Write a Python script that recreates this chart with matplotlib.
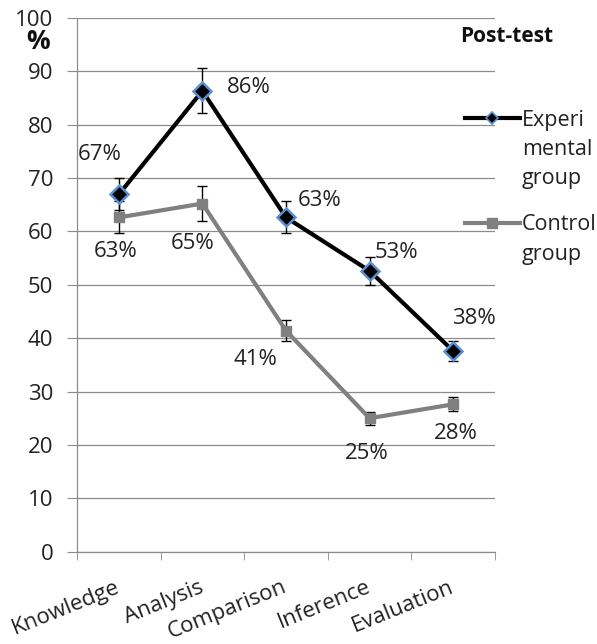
import matplotlib.pyplot as plt
import numpy as np

plt.rcParams['font.family'] = ['Open Sans', 'DejaVu Sans']

# categories and values
categories = ["Knowledge", "Analysis", "Comparison", "Inference", "Evaluation"]
exp_mean = [66.9, 86.3, 62.6, 52.6, 37.6]
exp_err = [3.0, 4.2, 3.0, 2.6, 1.8]
ctrl_mean = [62.6, 65.2, 41.4, 25.0, 27.6]
ctrl_err = [3.0, 3.2, 1.9, 1.2, 1.3]

# label offsets in pixels (dx, dy) relative to each point
exp_offsets = [(-19, 40), (46, 3), (34, 17), (27, 18), (21, 32)]
ctrl_offsets = [(-3, -34), (-10, -40), (-31, -29), (-3, -35), (3, -29)]

grid_color = "#8c8c8c"
text_color = "#222222"
exp_color = "black"
ctrl_color = "#808080"
fs = 16

fig = plt.figure(figsize=(5.97, 6.44), dpi=100)
ax = fig.add_axes([0.129, 0.1433, 0.70, 0.8292])

x = np.arange(len(categories))

# error bars first, so markers sit on top
ax.errorbar(x, exp_mean, yerr=exp_err, fmt="none", ecolor="black",
            elinewidth=1, capsize=3.5, capthick=1, zorder=3)
ax.errorbar(x, ctrl_mean, yerr=ctrl_err, fmt="none", ecolor="black",
            elinewidth=1, capsize=3.5, capthick=1, zorder=3)

ax.plot(x, ctrl_mean, color=ctrl_color, linewidth=3, marker="s",
        markersize=7.5, markerfacecolor=ctrl_color, markeredgecolor=ctrl_color,
        zorder=4)
ax.plot(x, exp_mean, color=exp_color, linewidth=3, marker="D",
        markersize=9, markerfacecolor="black", markeredgecolor="#5b8fd0",
        markeredgewidth=1.8, zorder=5)

# data labels
for xi, v, (dx, dy) in zip(x, exp_mean, exp_offsets):
    ax.annotate(f"{round(v):d}%", (xi, v), xytext=(dx * 0.72, dy * 0.72),
                textcoords="offset points", ha="center", va="center",
                fontsize=fs, color=text_color)
for xi, v, (dx, dy) in zip(x, ctrl_mean, ctrl_offsets):
    ax.annotate(f"{round(v):d}%", (xi, v), xytext=(dx * 0.72, dy * 0.72),
                textcoords="offset points", ha="center", va="center",
                fontsize=fs, color=text_color)

# axes styling
ax.set_xlim(-0.5, len(categories) - 0.5)
ax.set_ylim(0, 100)
ax.set_yticks(np.arange(0, 101, 10))
ax.yaxis.grid(True, color=grid_color, linewidth=0.9)
ax.set_axisbelow(True)
for side in ["top", "right"]:
    ax.spines[side].set_visible(False)
for side in ["left", "bottom"]:
    ax.spines[side].set_color(grid_color)
    ax.spines[side].set_linewidth(0.9)

ax.tick_params(axis="y", length=7, color=grid_color, labelsize=fs,
               labelcolor=text_color, pad=10)
ax.set_xticks(x)
ax.set_xticklabels(categories, rotation=22, ha="right", va="center",
                   rotation_mode="anchor", fontsize=fs, color=text_color)
ax.tick_params(axis="x", which="major", length=0, pad=25)
ax.set_xticks(np.arange(-0.5, len(categories)), minor=True)
ax.tick_params(axis="x", which="minor", length=6, color=grid_color)

# "%" unit under the top tick
ax.text(-0.093, 0.955, "%", transform=ax.transAxes, ha="center", va="center",
        fontsize=19, fontweight="bold", color="#111111")

# legend drawn by hand so the handle lines up with the first text line
ax.text(1.029, 0.964, "Post-test", transform=ax.transAxes, ha="center",
        va="center", fontsize=15, fontweight="bold", color="#111111")
ax.plot([0.928, 1.060], [0.812, 0.812], transform=ax.transAxes,
        color=exp_color, linewidth=3, clip_on=False, zorder=5)
ax.plot([0.994], [0.812], transform=ax.transAxes, marker="D", markersize=6,
        markerfacecolor="black", markeredgecolor="#5b8fd0", markeredgewidth=1.2,
        clip_on=False, zorder=6)
ax.text(1.065, 0.828, "Experi\nmental\ngroup", transform=ax.transAxes,
        ha="left", va="top", fontsize=15.5, color=text_color, linespacing=1.52)
ax.plot([0.928, 1.060], [0.6156, 0.6156], transform=ax.transAxes,
        color=ctrl_color, linewidth=3, clip_on=False, zorder=5)
ax.plot([0.994], [0.6156], transform=ax.transAxes, marker="s", markersize=7,
        markerfacecolor=ctrl_color, markeredgecolor=ctrl_color,
        clip_on=False, zorder=6)
ax.text(1.065, 0.6316, "Control\ngroup", transform=ax.transAxes,
        ha="left", va="top", fontsize=15.5, color=text_color, linespacing=1.52)

fig.savefig("out.png", dpi=100)
